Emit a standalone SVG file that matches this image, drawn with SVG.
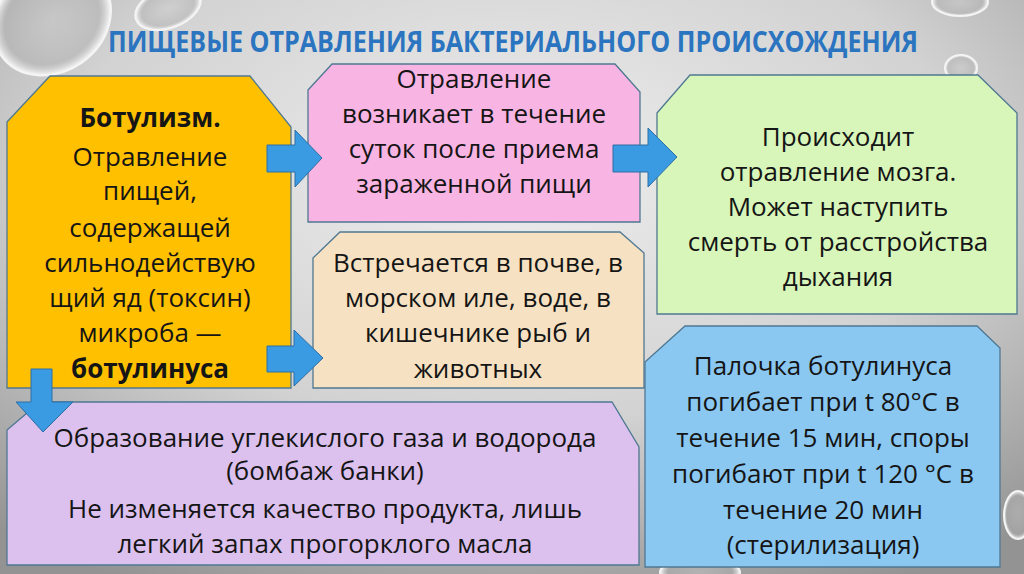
<svg xmlns="http://www.w3.org/2000/svg" width="1024" height="574" viewBox="0 0 1024 574">
<defs>
<radialGradient id="bg" cx="0.5" cy="0.3" r="0.8">
<stop offset="0" stop-color="#eeeeee"/>
<stop offset="0.55" stop-color="#d2d2d2"/>
<stop offset="1" stop-color="#939393"/>
</radialGradient>
<radialGradient id="bub" cx="0.5" cy="0.5" r="0.5">
<stop offset="0" stop-color="#cbcbcb" stop-opacity="0.4"/>
<stop offset="0.8" stop-color="#b0b0b0" stop-opacity="0.5"/>
<stop offset="1" stop-color="#ffffff" stop-opacity="0.9"/>
</radialGradient>
<style>
.box{stroke:#4f7892;stroke-width:1.3}
.t{font-family:"Open Sans","Noto Sans","DejaVu Sans",sans-serif;font-size:26px;fill:#151515;text-anchor:middle}
.b{font-weight:bold}
.arr{fill:#3a9be2;stroke:#2e6ea6;stroke-width:1}
.bb{fill:url(#bub);stroke:#f4f4f4;stroke-width:2}
</style>
</defs>
<rect width="1024" height="574" fill="url(#bg)"/>
<g id="bubbles">
<ellipse class="bb" cx="52" cy="20" rx="62" ry="52" transform="rotate(-35 52 20)"/>
<ellipse class="bb" cx="168" cy="8" rx="34" ry="20" transform="rotate(-20 168 8)"/>
<ellipse class="bb" cx="960" cy="2" rx="28" ry="14"/>
<ellipse class="bb" cx="961" cy="68" rx="16" ry="13"/>
<ellipse class="bb" cx="1018" cy="515" rx="14" ry="24"/>
<ellipse class="bb" cx="700" cy="572" rx="40" ry="14"/>
</g>
<text x="513" y="52" font-family="'Open Sans','Noto Sans',sans-serif" font-weight="bold" font-size="28" fill="#2b74c0" text-anchor="middle" textLength="810" lengthAdjust="spacingAndGlyphs">ПИЩЕВЫЕ ОТРАВЛЕНИЯ БАКТЕРИАЛЬНОГО ПРОИСХОЖДЕНИЯ</text>
<g id="botulism">
<path class="box" fill="#ffc000" d="M7 122 L50 76 H250 L291 127 V388 H7 Z"/>
<text class="t"><tspan class="b" x="150" y="127">Ботулизм.</tspan><tspan x="150" y="166">Отравление</tspan><tspan x="150" y="200">пищей,</tspan><tspan x="150" y="237">содержащей</tspan><tspan x="150" y="272">сильнодействую</tspan><tspan x="150" y="307">щий яд (токсин)</tspan><tspan x="150" y="342">микроба —</tspan><tspan class="b" x="150" y="378">ботулинуса</tspan></text>
</g>
<g id="onset">
<path class="box" fill="#f8b4e2" d="M308 90 L332 64 H615 L640 92 V222 H308 Z"/>
<text class="t"><tspan x="474" y="88">Отравление</tspan><tspan x="474" y="123">возникает в течение</tspan><tspan x="474" y="158">суток после приема</tspan><tspan x="474" y="193">зараженной пищи</tspan></text>
</g>
<g id="brain">
<path class="box" fill="#d8f6ba" d="M657 113 L690 75 H978 L1017 113 V314 H657 Z"/>
<text class="t"><tspan x="838" y="146">Происходит</tspan><tspan x="838" y="181">отравление мозга.</tspan><tspan x="838" y="216">Может наступить</tspan><tspan x="838" y="251">смерть от расстройства</tspan><tspan x="838" y="286">дыхания</tspan></text>
</g>
<g id="habitat">
<path class="box" fill="#f6e2c2" d="M313 258 L340 232 H620 L644 253 V388 H313 Z"/>
<text class="t"><tspan x="478" y="272">Встречается в почве, в</tspan><tspan x="478" y="307">морском иле, воде, в</tspan><tspan x="478" y="342">кишечнике рыб и</tspan><tspan x="478" y="378">животных</tspan></text>
</g>
<g id="bombage">
<path class="box" fill="#dcc1ee" d="M7 430 L40 402 H612 L639 447 V565 H7 Z"/>
<text class="t"><tspan x="325" y="447">Образование углекислого газа и водорода</tspan><tspan x="325" y="480">(бомбаж банки)</tspan><tspan x="325" y="518">Не изменяется качество продукта, лишь</tspan><tspan x="325" y="553">легкий запах прогорклого масла</tspan></text>
</g>
<g id="sterilization">
<path class="box" fill="#8ac8f2" d="M645 362 L685 326 H977 L1000 348 V567 H645 Z"/>
<text class="t"><tspan x="823" y="375">Палочка ботулинуса</tspan><tspan x="823" y="411">погибает при t 80°C в</tspan><tspan x="823" y="447">течение 15 мин, споры</tspan><tspan x="823" y="483">погибают при t 120 °C в</tspan><tspan x="823" y="519">течение 20 мин</tspan><tspan x="823" y="554">(стерилизация)</tspan></text>
</g>
<g id="connectors">
<path class="arr" d="M267 145 H295 V130 L322 158 L295 187 V172 H267 Z"/>
<path class="arr" d="M613 145 H648 V128 L677 157 L648 187 V172 H613 Z"/>
<path class="arr" d="M267 346 H294 V330 L323 358 L294 386 V372 H267 Z"/>
<path class="arr" d="M31 369 H52 V402 H73 L43 432 L16 402 H31 Z"/>
</g>
</svg>
